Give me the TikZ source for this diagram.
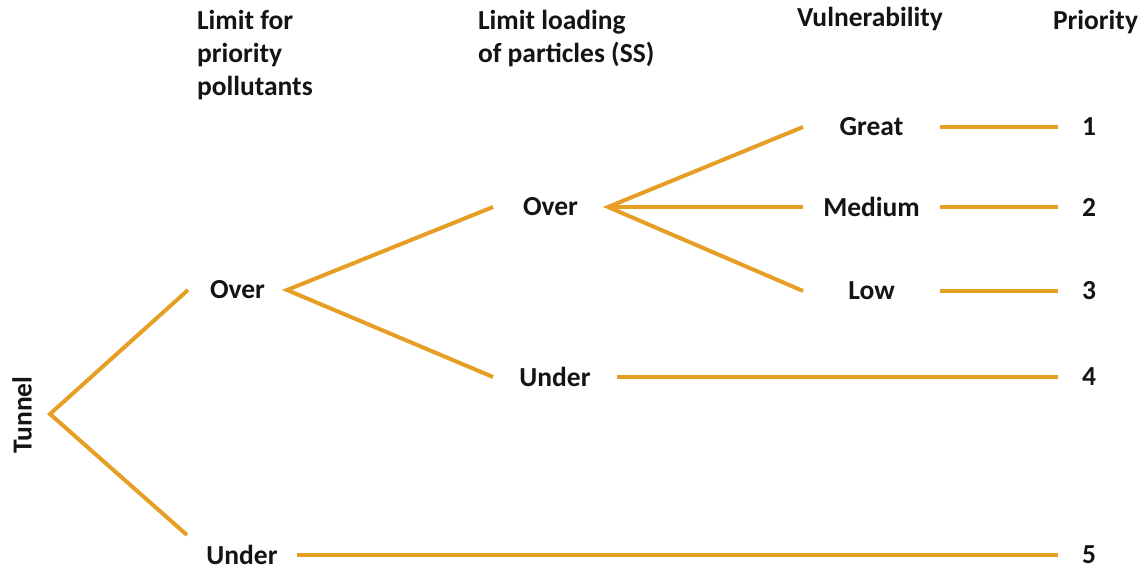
\documentclass[tikz,border=0pt]{standalone}
\usepackage{fontspec}
\setmainfont{Carlito}
\definecolor{branch}{RGB}{230,158,36}
\definecolor{txt}{RGB}{20,20,20}
\begin{document}
\begin{tikzpicture}[x=1pt,y=-1pt,
  lbl/.style={font=\bfseries\fontsize{27.5}{33}\selectfont, text=txt, inner sep=0pt, outer sep=0pt},
  hdr/.style={lbl, anchor=north west, align=left},
  br/.style={draw=branch, line width=4pt, line cap=butt}]
\useasboundingbox (0,0) rectangle (1147,570);
% headers
\node[hdr] (h1) at (197,10) {Limit for\\priority\\pollutants};
\node[hdr] (h2) at (478,10) {Limit loading\\of particles (SS)};
\node[hdr] (h3) at (797,7) {Vulnerability};
\node[hdr] (h4) at (1053,10) {Priority};
% labels
\node[lbl, rotate=90] (tunnel) at (22,415) {Tunnel};
\coordinate (tv) at (50,414);
\node[lbl, minimum width=99pt] (over1) at (237.5,290) {Over};
\node[lbl, minimum width=110pt] (under1) at (242,555) {Under};
\node[lbl, minimum width=115pt] (over2) at (550.5,207) {Over};
\node[lbl, minimum width=124pt] (under2) at (555,377) {Under};
\node[lbl, minimum width=137pt] (great) at (871.5,127) {Great};
\node[lbl, minimum width=137pt] (medium) at (871.5,207) {Medium};
\node[lbl, minimum width=137pt] (low) at (871.5,291) {Low};
\node[lbl, minimum width=62pt] (n1) at (1089,127) {1};
\node[lbl, minimum width=62pt] (n2) at (1089,207) {2};
\node[lbl, minimum width=62pt] (n3) at (1089,291) {3};
\node[lbl, minimum width=62pt] (n4) at (1089,377) {4};
\node[lbl, minimum width=62pt] (n5) at (1089,555) {5};
% connectors
\draw[br] (over1.west) -- (tv) -- ([yshift=20pt]under1.west);
\draw[br] (over2.west) -- (over1.east) -- (under2.west);
\draw[br] (great.west) -- (over2.east) -- (low.west);
\draw[br] (over2.east) -- (medium.west);
\draw[br] (great.east) -- (n1.west);
\draw[br] (medium.east) -- (n2.west);
\draw[br] (low.east) -- (n3.west);
\draw[br] (under2.east) -- (n4.west);
\draw[br] (under1.east) -- (n5.west);
\end{tikzpicture}
\end{document}
